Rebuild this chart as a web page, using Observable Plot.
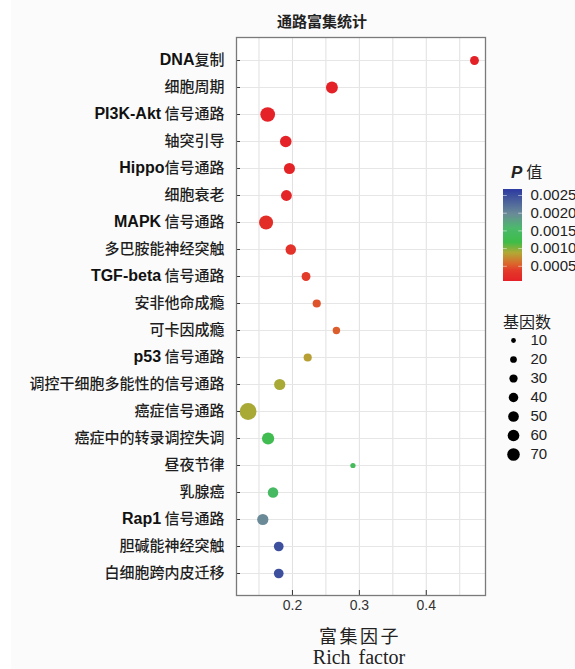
<!DOCTYPE html>
<html><head><meta charset="utf-8">
<script src="https://cdn.jsdelivr.net/npm/d3@7"></script>
<script src="https://cdn.jsdelivr.net/npm/@observablehq/plot@0.6"></script>
<style>
html,body{margin:0;padding:0;background:#fbfbfb;}
#wrap{position:relative;width:575px;height:669px;overflow:hidden;background:#fbfbfb;}
#strip{position:absolute;left:0;top:0;width:11px;height:669px;background:#fff;}
.abs{position:absolute;white-space:nowrap;transform:translate(-50%,-50%);color:#222;}
.absl{position:absolute;white-space:nowrap;transform:translate(0,-50%);color:#222;}
svg{position:absolute;left:0;top:0;overflow:visible;}
</style></head><body><div id="wrap"><div id="strip"></div></div>
<script>
const pathways = ["DNA复制","细胞周期","PI3K-Akt 信号通路","轴突引导","Hippo信号通路","细胞衰老","MAPK 信号通路","多巴胺能神经突触","TGF-beta 信号通路","安非他命成瘾","可卡因成瘾","p53 信号通路","调控干细胞多能性的信号通路","癌症信号通路","癌症中的转录调控失调","昼夜节律","乳腺癌","Rap1 信号通路","胆碱能神经突触","白细胞跨内皮迁移"];
const richFactor = [0.472,0.259,0.163,0.190,0.1955,0.191,0.1606,0.1975,0.2203,0.2363,0.2657,0.2228,0.181,0.1337,0.1636,0.2904,0.171,0.1557,0.1795,0.1795];
const geneCount = [20,36,55,34,31,30,50,28,20,17,14,17,32,72,38,7,28,32,24,24];
const pValue = [0.0001,0.0001,0.00012,0.00012,0.00013,0.00015,0.00025,0.0003,0.0004,0.0005,0.00055,0.00085,0.00092,0.00092,0.0013,0.0014,0.0015,0.0020,0.0025,0.0025];
const xTicks = [0.2,0.3,0.4];
const xGrid = [0.15,0.2,0.25,0.3,0.35,0.4,0.45];
const pTicks = [0.0005,0.001,0.0015,0.002,0.0025];
const sizeTicks = [10,20,30,40,50,60,70];
const colorDomain = [0.00007,0.0004,0.0006,0.0009,0.0012,0.0016,0.0020,0.00267];
const colorRange = ["#e41e26","#e33b2a","#da6a2c","#b1a935","#3dbd48","#4cb86c","#6a8a98","#2e3ca0"];

const rows = pathways.map((name,i)=>({name, rich: richFactor[i], count: geneCount[i], p: pValue[i]}));
const colorOpts = {type:"linear", domain: colorDomain, range: colorRange};
const wrap = document.getElementById("wrap");

const main = Plot.plot({
  width: 575, height: 669,
  marginLeft: 236, marginRight: 90, marginTop: 37, marginBottom: 74,
  style: {background: "transparent", fontFamily: "'Liberation Sans', Arial, sans-serif"},
  x: {domain: [0.1164, 0.4885]},
  y: {type: "point", domain: pathways, padding: 0.58},
  r: {type: "sqrt", domain: [0,70], range: [0,8.3]},
  color: colorOpts,
  marks: [
    Plot.frame({fill: "white", stroke: "none"}),
    Plot.gridX(xGrid, {stroke: "#e0e0e0", strokeOpacity: 1}),
    Plot.gridY({stroke: "#e6e6e6", strokeOpacity: 1}),
    Plot.dot(rows, {x: "rich", y: "name", r: "count", fill: "p"}),
    Plot.axisX(xTicks, {tickSize: -5, tickPadding: 10, tickFormat: d3.format(".1f"), fontSize: 14, color: "#333", label: null}),
    Plot.axisY({tickSize: -4, tickPadding: 16, label: null, fontSize: 15, color: "#333"}),
    Plot.frame({stroke: "#7a7a7a", strokeWidth: 1.3})
  ]
});
wrap.appendChild(main);

// mixed bold Latin / CJK tick labels
const NS = "http://www.w3.org/2000/svg";
main.querySelectorAll('g[aria-label="y-axis tick label"] text').forEach(t => {
  const s = t.textContent;
  const m = s.match(/^([A-Za-z0-9\-]+)(.*)$/);
  while (t.firstChild) t.removeChild(t.firstChild);
  const add = (txt, fam, wt, size, fill) => {
    if (!txt) return;
    const ts = document.createElementNS(NS, "tspan");
    ts.textContent = txt;
    ts.setAttribute("font-family", fam);
    ts.setAttribute("font-weight", wt);
    ts.setAttribute("font-size", size);
    ts.setAttribute("fill", fill);
    t.appendChild(ts);
  };
  if (m) {
    add(m[1], "'Liberation Sans', Arial, sans-serif", "bold", 16, "#111");
    add(m[2], "'Noto Sans CJK SC', sans-serif", "500", 15, "#1e1e1e");
  } else {
    add(s, "'Noto Sans CJK SC', sans-serif", "500", 15, "#1e1e1e");
  }
});

// color bar legend
const cMin = colorDomain[0], cMax = colorDomain[colorDomain.length-1];
const nSlices = 92, step = (cMax - cMin) / nSlices;
const ramp = d3.range(nSlices).map(i => cMin + step * (i + 0.5));
const colorLegend = Plot.plot({
  width: 75, height: 110, marginLeft: 3, marginRight: 53, marginTop: 9, marginBottom: 9,
  style: {background: "transparent", fontFamily: "'Liberation Sans', Arial, sans-serif"},
  x: {domain: [0,1], axis: null},
  y: {domain: [cMin, cMax], axis: null},
  color: colorOpts,
  marks: [
    Plot.rect(ramp, {x1: 0, x2: 1, y1: d => Math.max(cMin, d - step), y2: d => Math.min(cMax, d + step), fill: d => d, shapeRendering: "crispEdges"}),
    Plot.ruleY(pTicks, {x1: 0, x2: 0.2, stroke: "#fff", strokeOpacity: 0.5}),
    Plot.ruleY(pTicks, {x1: 0.8, x2: 1, stroke: "#fff", strokeOpacity: 0.5}),
    Plot.axisY(pTicks, {anchor: "right", tickSize: 0, tickPadding: 8, tickFormat: d3.format(".4f"), fontSize: 15, color: "#222"})
  ]
});
colorLegend.style.left = "500px"; colorLegend.style.top = "180px";
wrap.appendChild(colorLegend);

// size legend
const sizeLegend = Plot.plot({
  width: 70, height: 145, marginLeft: 0, marginRight: 0, marginTop: 9, marginBottom: 20,
  style: {background: "transparent", fontFamily: "'Liberation Sans', Arial, sans-serif"},
  y: {type: "point", domain: sizeTicks, padding: 0, axis: null},
  r: {type: "sqrt", domain: [0,70], range: [0,6.3]},
  marks: [
    Plot.dot(sizeTicks, {y: d => d, r: d => d, fill: "#000", frameAnchor: "left", dx: 18}),
    Plot.text(sizeTicks, {y: d => d, text: d => String(d), frameAnchor: "left", dx: 35, textAnchor: "start", fontSize: 15, fill: "#222"})
  ]
});
sizeLegend.style.left = "495px"; sizeLegend.style.top = "330px";
wrap.appendChild(sizeLegend);

// texts
const addDiv = (html, cls, left, top, style) => {
  const d = document.createElement("div");
  d.className = cls; d.innerHTML = html;
  d.style.left = left + "px"; d.style.top = top + "px";
  Object.assign(d.style, style || {});
  wrap.appendChild(d);
};
addDiv("通路富集统计", "abs", 322, 20, {fontFamily: "'Noto Sans CJK SC', sans-serif", fontWeight: "bold", fontSize: "15px", lineHeight: "15px"});
addDiv("富集因子", "abs", 360, 635, {fontFamily: "'Noto Sans CJK SC', sans-serif", fontSize: "18px", lineHeight: "18px", letterSpacing: "2.5px"});
addDiv("Rich factor", "abs", 359, 657, {fontFamily: "'Liberation Serif', 'Times New Roman', serif", fontSize: "20px", lineHeight: "20px", wordSpacing: "3px"});
addDiv("<span style=\"font-family:'Liberation Sans',Arial,sans-serif;font-weight:bold;font-style:italic;font-size:17px\">P</span> <span style=\"font-family:'Noto Sans CJK SC',sans-serif;font-size:16px\">值</span>", "absl", 511, 172, {lineHeight: "17px"});
addDiv("基因数", "absl", 503, 321, {fontFamily: "'Noto Sans CJK SC', sans-serif", fontSize: "16px", lineHeight: "16px"});
</script></body></html>
